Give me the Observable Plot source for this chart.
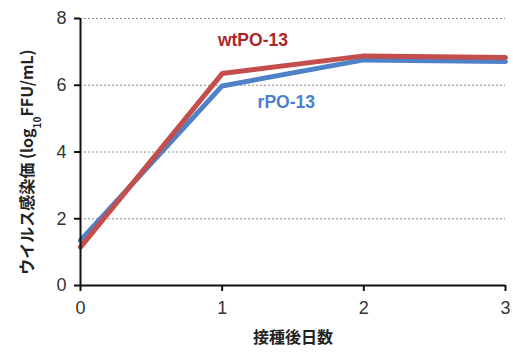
<!DOCTYPE html>
<html><head><meta charset="utf-8">
<script src="https://cdn.jsdelivr.net/npm/d3@7"></script>
<script src="https://cdn.jsdelivr.net/npm/@observablehq/plot@0.6"></script>
<style>body{margin:0;background:#fff}</style>
</head><body><div id="chart"></div>
<script>
const days = [0, 1, 2, 3];
const wtPO13 = [1.15, 6.35, 6.88, 6.83];
const rPO13 = [1.35, 5.98, 6.76, 6.71];
const yTicks = [0, 2, 4, 6, 8];
const xTicks = [0, 1, 2, 3];
const seriesNames = ["wtPO-13", "rPO-13"];

const data = [];
days.forEach((d, i) => data.push({day: d, v: rPO13[i], s: seriesNames[1]}));
days.forEach((d, i) => data.push({day: d, v: wtPO13[i], s: seriesNames[0]}));

const labels = [
  {day: 0.97, v: 7.35, t: seriesNames[0], c: "#ab2626"},
  {day: 1.25, v: 5.5, t: seriesNames[1], c: "#4a7fd0"}
];

const jp = "'Noto Sans CJK JP', sans-serif";
const plot = Plot.plot({
  width: 513, height: 354,
  marginLeft: 80, marginRight: 8, marginTop: 18, marginBottom: 69,
  style: {fontFamily: "'Liberation Sans', Arial, sans-serif", background: "#fff"},
  x: {domain: [0, 3]},
  y: {domain: [0, 8]},
  marks: [
    Plot.gridY(yTicks.filter(d => d > 0), {stroke: "#888", strokeOpacity: 1, strokeDasharray: "2,2", strokeWidth: 1}),
    Plot.line(data.filter(d => d.s === "rPO-13"), {x: "day", y: "v", stroke: "#4f81c9", strokeWidth: 5}),
    Plot.line(data.filter(d => d.s === "wtPO-13"), {x: "day", y: "v", stroke: "#c44e4b", strokeWidth: 5}),
    Plot.axisX({ticks: xTicks, tickFormat: d => d, tickSize: 6, tickPadding: 10, fontSize: 18, fill: "#333", stroke: "#111", strokeWidth: 2, label: null}),
    Plot.axisY({ticks: yTicks, tickFormat: d => d, tickSize: 6, tickPadding: 8, fontSize: 18, fill: "#333", stroke: "#111", strokeWidth: 2, label: null}),
    Plot.ruleY([0], {stroke: "#111", strokeWidth: 2}),
    Plot.ruleX([0], {stroke: "#111", strokeWidth: 2}),
    Plot.text(labels, {x: "day", y: "v", text: "t", fill: "c", fontSize: 17.5, fontWeight: "bold", textAnchor: "start", fontFamily: "'Liberation Sans', Arial, sans-serif"}),
    Plot.text(["接種後日数"], {frameAnchor: "bottom", dy: 57, fontSize: 16, fontWeight: "bold", fill: "#222", fontFamily: jp}),
    Plot.text(["YLABEL"], {frameAnchor: "left", textAnchor: "middle", dx: -53, dy: 10, rotate: -90, fontSize: 16, fontWeight: "bold", fill: "#222", fontFamily: jp})
  ]
});
document.getElementById("chart").appendChild(plot);
// subscript in y label
const yl = d3.select(plot).selectAll("text").filter(function(){ return this.textContent === "YLABEL"; });
yl.text(null);
yl.append("tspan").text("ウイルス感染価 (log");
yl.append("tspan").attr("baseline-shift", "sub").attr("font-size", 10).text("10");
yl.append("tspan").text("FFU/mL)");
</script>
</body></html>
